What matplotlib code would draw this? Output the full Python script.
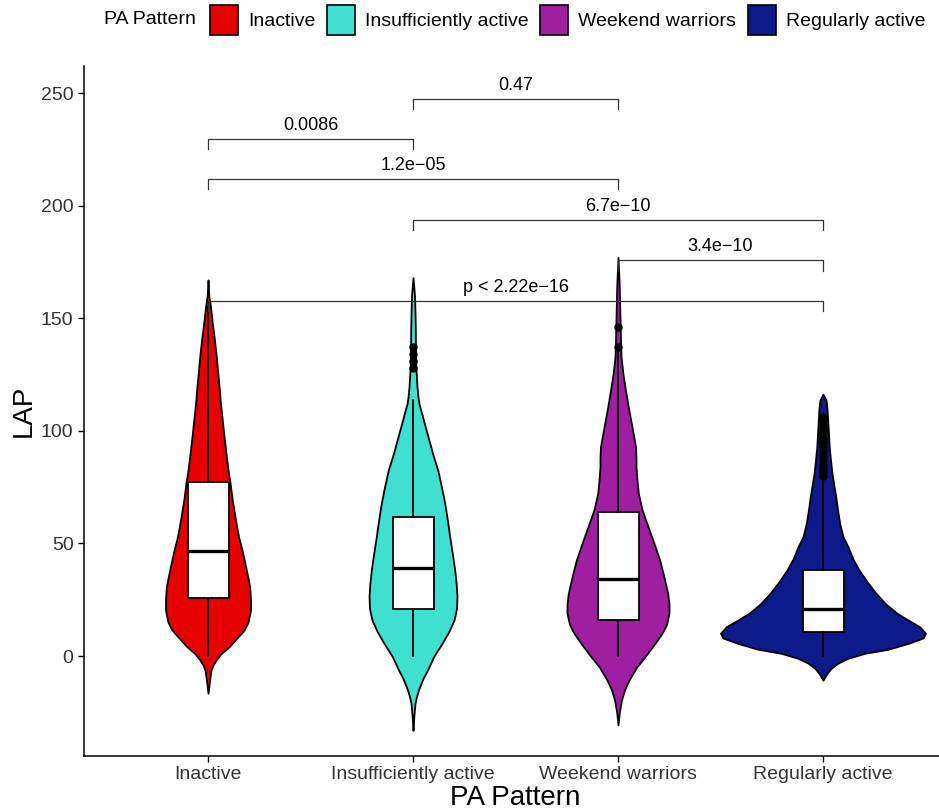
import numpy as np
import matplotlib.pyplot as plt
from matplotlib.patches import Patch

plt.rcParams['font.family'] = ['Liberation Sans', 'DejaVu Sans']

# 分组与颜色
groups = ['Inactive', 'Insufficiently active', 'Weekend warriors', 'Regularly active']
colors = ['#E60000', '#40E0D0', '#A01EA0', '#0C1A8C']

# 小提琴轮廓：LAP 值与相对半宽
violin_y = [
    [-16.5, -10, -6.2, -4, -1.8, 1, 4.1, 8, 11.5, 15, 20.4, 25, 30.8, 40, 47, 53, 60.4,
     70, 77, 82, 90, 97.4, 105, 112, 120, 127, 135, 142, 149, 155, 160, 167],
    [-33, -27, -21, -18, -15, -10, -6.2, 0, 5.6, 11, 16, 21, 26.4, 32, 38.2, 45, 53,
     60, 67.9, 75, 82.6, 90, 97.4, 103, 108, 112, 115, 119.6, 127, 134.5, 145, 152, 160, 168],
    [-30.6, -25, -19.5, -15, -10.7, -5, -0.3, 5, 10.1, 14, 19, 23, 27.8, 35, 42.6, 50,
     57.4, 65, 72.2, 78, 84, 88, 93, 98, 103.3, 110, 118, 125, 133, 140, 150, 165, 177],
    [-10.7, -7.7, -5.5, -3.2, -1, 1.2, 3, 5.6, 8, 10.1, 13, 16, 19, 23, 27.8, 33, 38.2,
     43, 48.5, 53, 58.9, 65, 70.7, 76, 81, 87, 93, 100, 106.3, 110, 113.7, 116.3],
]
violin_w = [
    [0, 1.8, 3, 5, 8, 13, 21, 29, 36, 40, 42.5, 42.5, 41.7, 37.5, 34, 30.5, 27.5,
     24, 22, 20.2, 18, 16, 14.2, 12.5, 11, 9.5, 7.8, 6, 4, 2.5, 0.8, 0],
    [0, 0.8, 2, 3.5, 5.5, 10, 14.5, 21, 29, 36, 41, 43.5, 44, 43.2, 41.7, 39.5, 36.7,
     34.5, 31.7, 28.5, 24.7, 19.5, 15, 11.5, 8.5, 6, 5, 4, 3, 2.5, 2.3, 2, 1.5, 0],
    [0, 1.3, 3.5, 6.5, 11, 18.5, 27, 36, 44, 48.5, 51, 51, 49.7, 46, 41.7, 36,
     30, 24, 20.3, 19, 18, 18, 17.5, 15.5, 13.3, 10.5, 7.5, 5, 3, 2.5, 2, 1.2, 0],
    [0, 4, 8, 14.7, 25, 41.7, 65, 85, 100, 102.5, 96.7, 85, 74, 63, 53, 44, 36,
     30, 25, 20, 16.7, 14.5, 12.8, 10.8, 9, 7.5, 6.2, 5.3, 4.5, 4, 3, 0],
]
violin_scale = 1 / 205  # 相对半宽 -> x 轴单位

# 箱线图统计量
whis_lo = [0, 0, 0, 0]
q1 = [25.9, 20.7, 16.0, 10.8]
med = [46.6, 39.2, 34.0, 20.7]
q3 = [77.1, 61.9, 64.1, 38.2]
whis_hi = [155, 113.7, 135, 79]
outliers = [
    [],
    [128, 131, 134, 137],
    [137, 146],
    [80, 81.5, 83, 85, 87, 89, 91, 93, 95, 97, 99, 101, 103, 105, 106],
]

# 显著性标注
comp_x1 = [2, 1, 1, 2, 3, 1]
comp_x2 = [3, 2, 3, 4, 4, 4]
comp_y = [247.5, 229.6, 211.8, 193.6, 175.7, 157.8]
comp_label = ['0.47', '0.0086', '1.2e\u221205', '6.7e\u221210', '3.4e\u221210', 'p < 2.22e\u221216']

W, H = 939, 810
fig = plt.figure(figsize=(W / 100, H / 100), dpi=100)
ax = fig.add_axes([84 / W, (H - 756) / H, (946 - 84) / W, (756 - 66) / H])

pos = np.arange(1, 5)
for i in range(4):
    y = np.array(violin_y[i])
    w = np.array(violin_w[i]) * violin_scale
    ax.fill_betweenx(y, pos[i] - w, pos[i] + w, facecolor=colors[i],
                     edgecolor='black', linewidth=1.3, zorder=2)

stats = []
for i in range(4):
    stats.append({'whislo': whis_lo[i], 'q1': q1[i], 'med': med[i], 'q3': q3[i],
                  'whishi': whis_hi[i], 'fliers': outliers[i]})
ax.bxp(stats, positions=pos, widths=0.2, showcaps=False, patch_artist=True,
       boxprops=dict(facecolor='white', edgecolor='black', linewidth=1.3),
       medianprops=dict(color='black', linewidth=2.4),
       whiskerprops=dict(color='black', linewidth=1.3),
       flierprops=dict(marker='o', markerfacecolor='black', markeredgecolor='black',
                       markersize=5),
       zorder=3)

tip = 4.6
for x1, x2, yb, lab in zip(comp_x1, comp_x2, comp_y, comp_label):
    ax.plot([x1, x1, x2, x2], [yb - tip, yb, yb, yb - tip], color='#333333',
            linewidth=0.9, zorder=4)
    ax.text((x1 + x2) / 2, yb + 2.2, lab, ha='center', va='bottom', fontsize=13,
            color='black', zorder=5)

ax.set_xlim(0.395, 4.6)
ax.set_ylim(-44.4, 262)
ax.set_xticks(pos)
ax.set_xticklabels(groups)
ax.set_yticks([0, 50, 100, 150, 200, 250])
ax.tick_params(axis='both', labelsize=14, colors='black', labelcolor='#333333',
               length=4, width=1)
ax.spines['top'].set_visible(False)
ax.spines['right'].set_visible(False)
ax.spines['left'].set_linewidth(1.1)
ax.spines['bottom'].set_linewidth(1.1)
ax.set_xlabel('PA Pattern', fontsize=20, labelpad=1)
ax.set_ylabel('LAP', fontsize=20, labelpad=3)

handles = [Patch(facecolor=c, edgecolor='black', linewidth=1.2) for c in colors]
fig.text(104 / W, 1 - 20 / H, 'PA Pattern', fontsize=14, va='center', ha='left')
fig.legend(handles, groups, loc='center left', bbox_to_anchor=(210 / W, 1 - 20 / H),
           ncol=4, frameon=False, fontsize=14, handlelength=1.45, handleheight=2.0,
           handletextpad=0.5, columnspacing=0.6, borderpad=0, borderaxespad=0)

fig.savefig('out.png', dpi=100)
